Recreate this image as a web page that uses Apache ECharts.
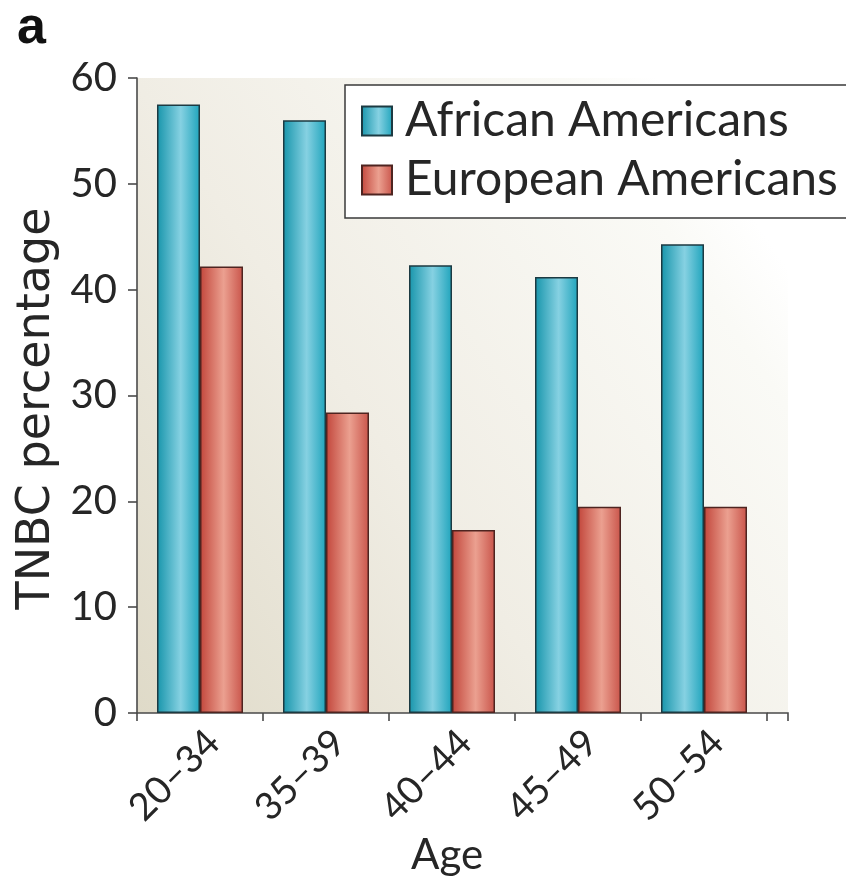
<!DOCTYPE html>
<html>
<head>
<meta charset="utf-8">
<script src="https://cdn.jsdelivr.net/npm/echarts@6/dist/echarts.min.js"></script>
<style>
  html, body { margin: 0; padding: 0; background: #ffffff; }
  #chart { width: 846px; height: 883px; }
</style>
</head>
<body>
<div id="chart"></div>
<script>
// Age groups and share of triple-negative breast cancer (%) by ancestry
const ageGroups = ['20–34', '35–39', '40–44', '45–49', '50–54'];
const africanAmericans = [57.5, 56.0, 42.3, 41.2, 44.3];
const europeanAmericans = [42.2, 28.4, 17.3, 19.5, 19.5];
const seriesNames = ['African Americans', 'European Americans'];
const yMin = 0, yMax = 60, yStep = 10;

const FONT = 'Lato';
const TEXT = '#262626';
const AXIS = '#4a4a4a';

// plot area
const G = { left: 137, top: 78, width: 630, height: 635 };
const tail = 21; // axis runs a little past the last age group

const chart = echarts.init(document.getElementById('chart'), null, { renderer: 'canvas' });

function barFill(edgeL, mid, edgeR) {
  return new echarts.graphic.LinearGradient(0, 0, 1, 0, [
    { offset: 0, color: edgeL },
    { offset: 0.55, color: mid },
    { offset: 1, color: edgeR }
  ]);
}

const baseY = G.top + G.height;
const rightX = G.left + G.width + tail;

chart.setOption({
  animation: false,
  backgroundColor: '#ffffff',
  title: {
    text: 'a', left: 12, top: -2,
    textStyle: { fontFamily: 'Liberation Sans', fontWeight: 'bold', fontSize: 52, color: '#111' }
  },
  graphic: [
    {
      type: 'rect', z: -10, silent: true,
      shape: { x: G.left, y: G.top, width: G.width + tail, height: G.height },
      style: {
        fill: new echarts.graphic.LinearGradient(0, 1, 1, 0.3, [
          { offset: 0, color: '#dfdac8' },
          { offset: 0.45, color: '#f0ede4' },
          { offset: 0.9, color: '#fafaf6' },
          { offset: 1, color: '#ffffff' }
        ])
      }
    },
    {
      type: 'polyline', z: 10, silent: true,
      shape: { points: [[G.left + G.width, baseY], [rightX, baseY], [rightX, baseY + 8]] },
      style: { stroke: AXIS, lineWidth: 1.6, fill: null }
    }
  ],
  legend: {
    orient: 'vertical',
    left: 345, top: 85,
    padding: [12, 13, 14, 16],
    itemWidth: 30, itemHeight: 29,
    itemGap: 11,
    borderColor: '#3a3a3a', borderWidth: 1.5,
    backgroundColor: '#ffffff',
    icon: 'rect',
    textStyle: { fontFamily: FONT, fontSize: 48, color: TEXT, padding: [0, 0, 0, 8] },
    data: seriesNames
  },
  grid: { left: G.left, top: G.top, width: G.width, height: G.height, containLabel: false },
  xAxis: {
    type: 'category',
    data: ageGroups,
    name: 'Age',
    nameLocation: 'middle',
    nameGap: 118,
    nameTextStyle: { fontFamily: FONT, fontSize: 42, color: TEXT, padding: [0, 10, 0, 0] },
    axisLine: { lineStyle: { color: AXIS, width: 1.6 } },
    axisTick: { show: true, length: 8, lineStyle: { color: AXIS, width: 1.6 } },
    axisLabel: { rotate: 45, margin: 10, verticalAlign: 'top', fontFamily: FONT, fontSize: 38, color: TEXT },
    splitLine: { show: false }
  },
  yAxis: {
    type: 'value',
    min: yMin, max: yMax, interval: yStep,
    name: 'TNBC percentage',
    nameLocation: 'middle',
    nameGap: 76,
    nameTextStyle: { fontFamily: 'DejaVu Sans', fontSize: 46, color: TEXT, padding: [0, 26, 0, 0] },
    axisLine: { show: true, lineStyle: { color: AXIS, width: 1.6 } },
    axisTick: { show: true, length: 9, lineStyle: { color: AXIS, width: 1.6 } },
    axisLabel: { margin: 20, fontFamily: FONT, fontSize: 40, color: TEXT },
    splitLine: { show: false }
  },
  series: [
    {
      name: seriesNames[0], type: 'bar', data: africanAmericans,
      barWidth: 43, barGap: '0%',
      itemStyle: {
        color: barFill('#1795ab', '#86d1e2', '#1fa4bc'),
        borderColor: '#1c3a42', borderWidth: 1.5
      }
    },
    {
      name: seriesNames[1], type: 'bar', data: europeanAmericans,
      barWidth: 43, barGap: '0%',
      itemStyle: {
        color: barFill('#c2463b', '#eba090', '#c9544a'),
        borderColor: '#4e2420', borderWidth: 1.5
      }
    }
  ]
});
</script>
</body>
</html>
